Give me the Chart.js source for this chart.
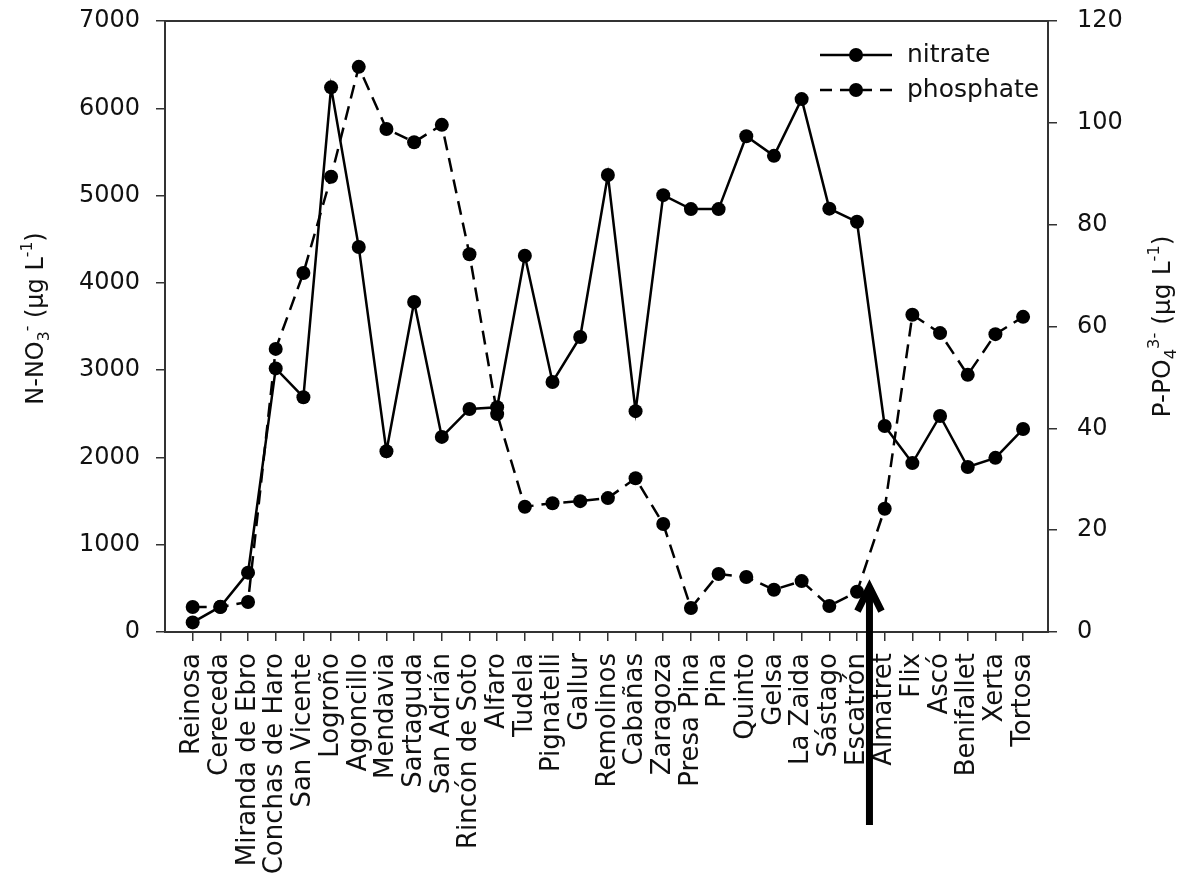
<!DOCTYPE html>
<html>
<head>
<meta charset="utf-8">
<script src="https://cdn.jsdelivr.net/npm/chart.js@4.4.1/dist/chart.umd.min.js"></script>
<style>
  html, body { margin: 0; padding: 0; background: #fff; }
  #wrap { width: 1185px; height: 877px; position: relative; }
</style>
</head>
<body>
<div id="wrap"><canvas id="grafik"></canvas></div>
<script>
// istasyonlar (Ebro nehri boyunca)
const stations = ['Reinosa', 'Cereceda', 'Miranda de Ebro', 'Conchas de Haro', 'San Vicente',
    'Logroño', 'Agoncillo', 'Mendavia', 'Sartaguda', 'San Adrián', 'Rincón de Soto', 'Alfaro',
    'Tudela', 'Pignatelli', 'Gallur', 'Remolinos', 'Cabañas', 'Zaragoza', 'Presa Pina', 'Pina',
    'Quinto', 'Gelsa', 'La Zaida', 'Sástago', 'Escatrón', 'Almatret', 'Flix', 'Ascó',
    'Benifallet', 'Xerta', 'Tortosa'];

// N-NO3 (µg/L), sol eksen
const nitrate = [110, 290, 680, 3020, 2690, 6240, 4410, 2070, 3780, 2235, 2555, 2575,
    4310, 2865, 3380, 5235, 2530, 5005, 4845, 4845, 5680, 5455, 6105, 4850, 4700,
    2360, 1935, 2475, 1890, 1995, 2325];

// P-PO4 (µg/L), sağ eksen
const phosphate = [4.9, 4.9, 5.9, 55.6, 70.5, 89.4, 111.0, 98.8, 96.2, 99.6, 74.2, 42.8,
    24.6, 25.3, 25.7, 26.3, 30.2, 21.2, 4.7, 11.4, 10.8, 8.3, 10.0, 5.1, 7.9,
    24.2, 62.3, 58.7, 50.5, 58.5, 61.9];

const leftTicks = [0, 1000, 2000, 3000, 4000, 5000, 6000, 7000];
const rightTicks = [0, 20, 40, 60, 80, 100, 120];

// ok işareti Escatrón ile Almatret arası
const arrowAt = 24.45;
const arrowTip = 9.6;

const FONT = 'DejaVu Sans';
const INK = '#111';

// eksen başlığı: alt/üst simgeli metin
function drawRich(ctx, parts, size) {
    let total = 0;
    parts.forEach(p => {
        ctx.font = (p.s ? size * 0.65 : size) + 'px "' + FONT + '"';
        p.w = ctx.measureText(p.t).width;
        total += p.w;
    });
    let x = -total / 2;
    parts.forEach(p => {
        ctx.font = (p.s ? size * 0.65 : size) + 'px "' + FONT + '"';
        let dy = 0;
        if (p.s === 1) dy = -size * 0.45;
        if (p.s === -1) dy = size * 0.25;
        ctx.fillText(p.t, x, dy);
        x += p.w;
    });
}

// ölçek kenar boşluklarını sıfırla
function noPad(s) {
    s.paddingTop = 0;
    s.paddingBottom = 0;
    s.paddingLeft = 0;
    s.paddingRight = 0;
}

const extras = {
    id: 'extras',
    beforeDatasetsDraw(chart) {
        const { ctx, chartArea: a } = chart;
        ctx.save();
        ctx.strokeStyle = '#333';
        ctx.lineWidth = 2;
        ctx.strokeRect(a.left, a.top, a.right - a.left, a.bottom - a.top);
        ctx.restore();
    },
    afterDraw(chart) {
        const { ctx, chartArea: a, scales } = chart;
        ctx.save();
        ctx.fillStyle = INK;
        ctx.textAlign = 'left';
        ctx.textBaseline = 'alphabetic';

        // sol eksen başlığı
        ctx.save();
        ctx.translate(43, (a.top + a.bottom) / 2 - 8);
        ctx.rotate(-Math.PI / 2);
        drawRich(ctx, [
            { t: 'N-NO', s: 0 }, { t: '3', s: -1 }, { t: '-', s: 1 },
            { t: ' (µg L', s: 0 }, { t: '-1', s: 1 }, { t: ')', s: 0 }
        ], 24);
        ctx.restore();

        // sağ eksen başlığı
        ctx.save();
        ctx.translate(1170, (a.top + a.bottom) / 2);
        ctx.rotate(-Math.PI / 2);
        drawRich(ctx, [
            { t: 'P-PO', s: 0 }, { t: '4', s: -1 }, { t: '3-', s: 1 },
            { t: ' (µg L', s: 0 }, { t: '-1', s: 1 }, { t: ')', s: 0 }
        ], 25);
        ctx.restore();

        // lejant
        const lx = a.right - 228;
        const items = [
            { label: 'nitrate', y: a.top + 34, dash: [] },
            { label: 'phosphate', y: a.top + 69, dash: [12, 8] }
        ];
        items.forEach(it => {
            ctx.strokeStyle = '#000';
            ctx.lineWidth = 2.5;
            ctx.setLineDash(it.dash);
            ctx.beginPath();
            ctx.moveTo(lx, it.y);
            ctx.lineTo(lx + 72, it.y);
            ctx.stroke();
            ctx.setLineDash([]);
            ctx.fillStyle = '#000';
            ctx.beginPath();
            ctx.arc(lx + 36, it.y, 7, 0, Math.PI * 2);
            ctx.fill();
            ctx.fillStyle = INK;
            ctx.font = '25px "' + FONT + '"';
            ctx.textBaseline = 'middle';
            ctx.fillText(it.label, lx + 87, it.y);
        });

        // ok
        const ax = scales.x.getPixelForValue(arrowAt);
        const ay = scales.y1.getPixelForValue(arrowTip);
        ctx.strokeStyle = '#000';
        ctx.lineWidth = 7;
        ctx.beginPath();
        ctx.moveTo(ax, ay + 4);
        ctx.lineTo(ax, a.bottom + 193);
        ctx.stroke();
        ctx.lineJoin = 'miter';
        ctx.beginPath();
        ctx.moveTo(ax - 12, ay + 28);
        ctx.lineTo(ax, ay + 4);
        ctx.lineTo(ax + 12, ay + 28);
        ctx.stroke();
        ctx.restore();
    }
};

const ctx = document.getElementById('grafik').getContext('2d');
const tickFont = { family: FONT, size: 24 };

window.grafik = new Chart(ctx, {
    type: 'line',
    data: {
        datasets: [{
            label: 'nitrate',
            data: nitrate.map((v, i) => ({ x: i, y: v })),
            yAxisID: 'y',
            borderColor: '#000',
            backgroundColor: '#000',
            borderWidth: 2.5,
            pointRadius: 7,
            pointBorderWidth: 0,
            pointBackgroundColor: '#000',
            tension: 0
        }, {
            label: 'phosphate',
            data: phosphate.map((v, i) => ({ x: i, y: v })),
            yAxisID: 'y1',
            borderColor: '#000',
            backgroundColor: '#000',
            borderWidth: 2.5,
            borderDash: [14, 8],
            pointRadius: 7,
            pointBorderWidth: 0,
            pointBackgroundColor: '#000',
            tension: 0
        }]
    },
    options: {
        responsive: true,
        maintainAspectRatio: false,
        animation: false,
        layout: { padding: { top: 21, left: 0, right: 0, bottom: 0 } },
        plugins: {
            legend: { display: false },
            tooltip: { enabled: false }
        },
        scales: {
            x: {
                type: 'linear',
                min: -1,
                max: 30.9,
                afterBuildTicks: s => { s.ticks = stations.map((_, i) => ({ value: i })); },
                afterFit: s => { s.height = 245; noPad(s); },
                ticks: {
                    autoSkip: false,
                    minRotation: 90,
                    maxRotation: 90,
                    padding: 12,
                    font: { family: FONT, size: 26 },
                    color: INK,
                    callback: (v, i) => stations[i]
                },
                grid: { drawOnChartArea: false, tickLength: 9, color: '#333', lineWidth: 1.5 },
                border: { display: false }
            },
            y: {
                type: 'linear',
                position: 'left',
                min: 0,
                max: 7000,
                afterBuildTicks: s => { s.ticks = leftTicks.map(v => ({ value: v })); },
                afterFit: s => { s.width = 165; noPad(s); },
                ticks: { padding: 16, font: tickFont, color: INK, callback: v => String(v) },
                grid: { drawOnChartArea: false, tickLength: 9, color: '#333', lineWidth: 1.5 },
                border: { display: false }
            },
            y1: {
                type: 'linear',
                position: 'right',
                min: 0,
                max: 120,
                afterBuildTicks: s => { s.ticks = rightTicks.map(v => ({ value: v })); },
                afterFit: s => { s.width = 137; noPad(s); },
                ticks: { padding: 20, font: tickFont, color: INK, callback: v => String(v) },
                grid: { drawOnChartArea: false, tickLength: 9, color: '#333', lineWidth: 1.5 },
                border: { display: false }
            }
        }
    },
    plugins: [extras]
});
</script>
</body>
</html>
